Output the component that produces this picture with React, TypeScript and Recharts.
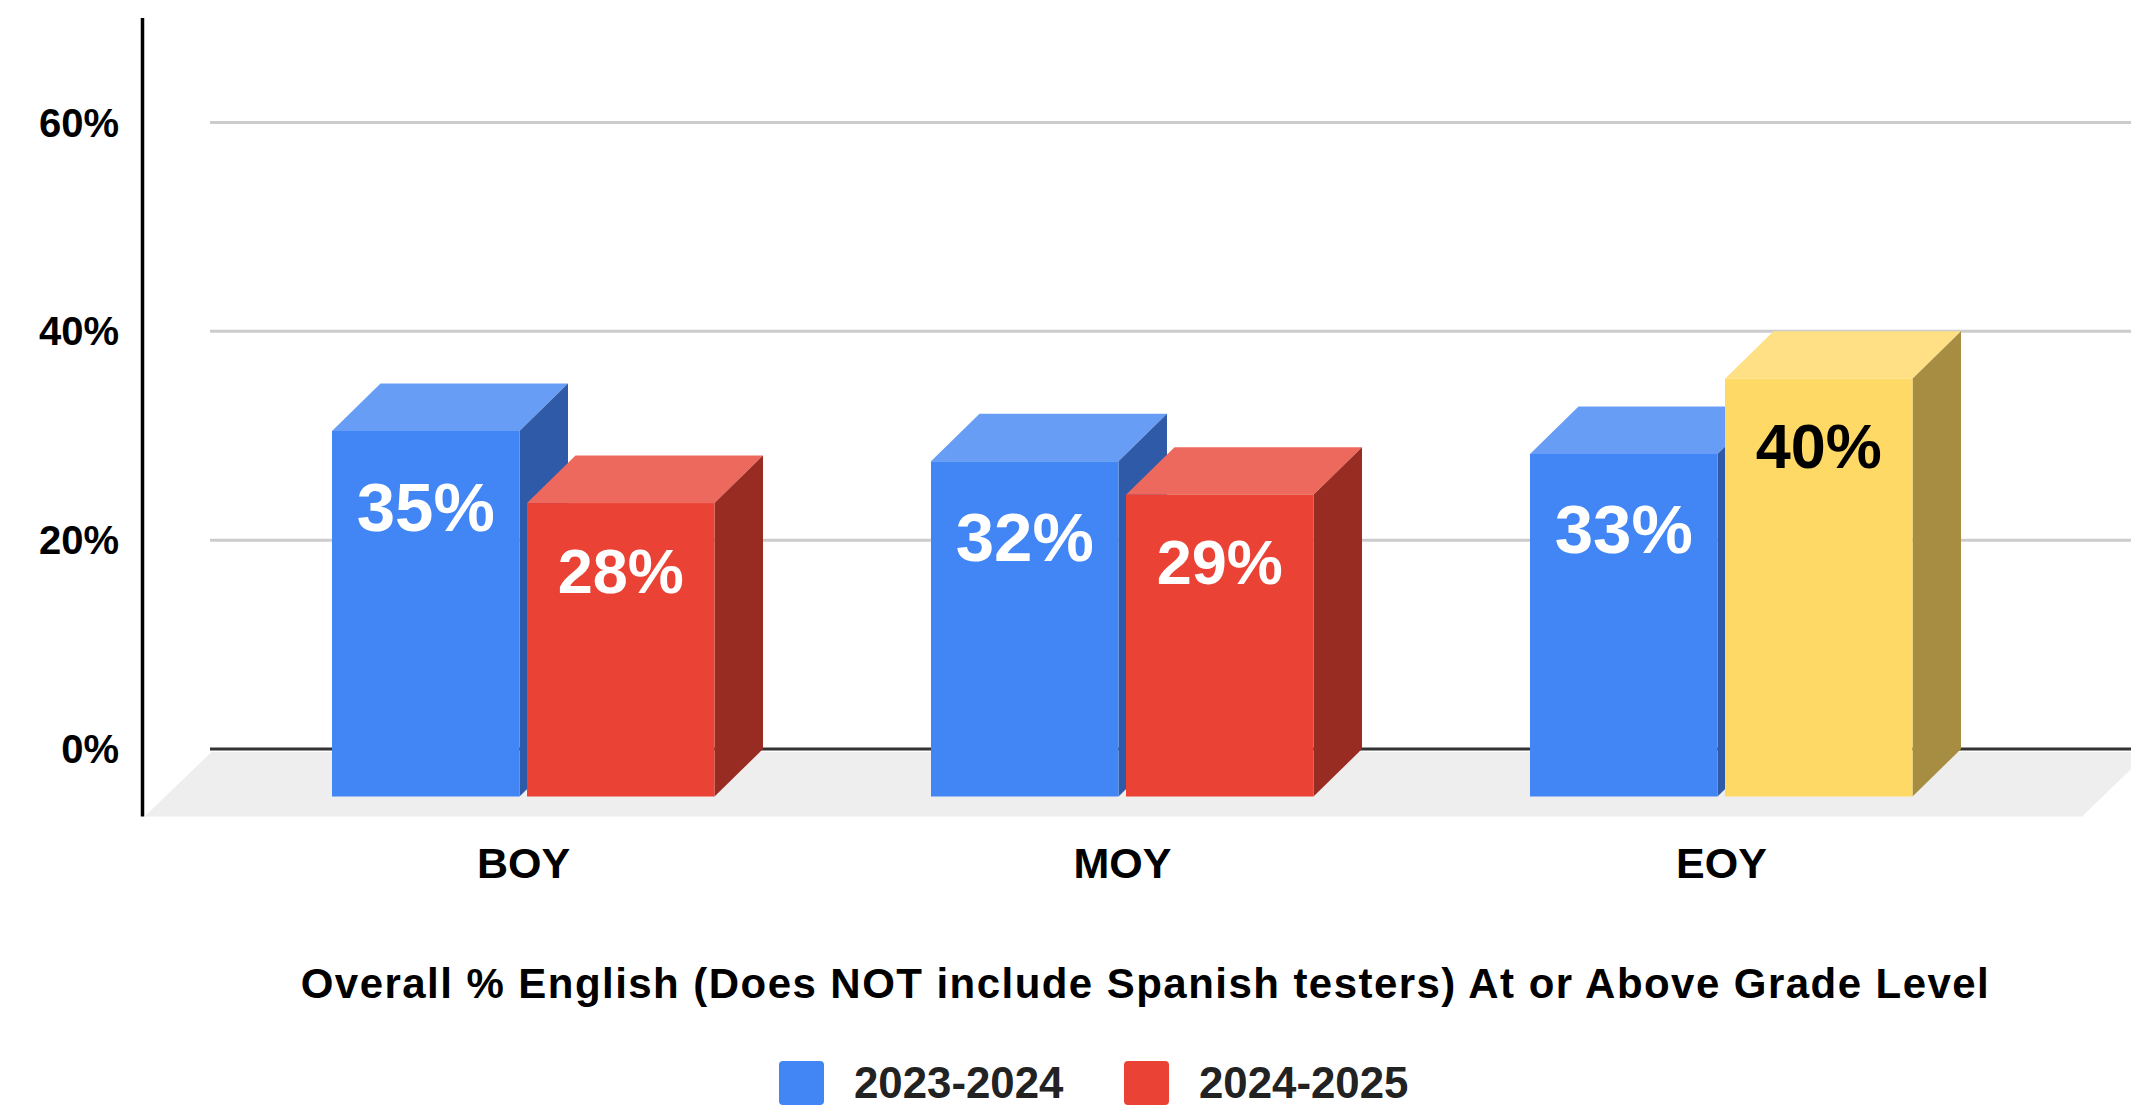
import { Bar, BarChart, CartesianGrid, Cell, LabelList, Legend, XAxis, YAxis } from 'recharts';

const categories = ['BOY', 'MOY', 'EOY'];
const values2324 = [35, 32.1, 32.8];
const values2425 = [28.1, 28.9, 40];
const yTicks = [0, 20, 40, 60];
const gridValues = [20, 40, 60];
const seriesNames = ['2023-2024', '2024-2025'];

const FONT = '"Liberation Sans", Arial, sans-serif';
const DEPTH_X = 48.5;
const DEPTH_Y = 47.5;

// face colours for the fake 3d boxes, keyed by front colour
const SHADES: Record<string, { top: string; side: string; label: string; size: number; drop: number }> = {
  '#4285f4': { top: '#689df6', side: '#2e5aa8', label: '#ffffff', size: 69, drop: 99.5 },
  '#ea4335': { top: '#ee695d', side: '#982b22', label: '#ffffff', size: 63, drop: 89.5 },
  '#ffd966': { top: '#ffe085', side: '#a68d42', label: '#000000', size: 63, drop: 89.5 },
};

const data = categories.map((name, i) => ({ name, a: values2324[i], b: values2425[i] }));

function Box3d(props: any) {
  const { x, y, width, height, fill } = props;
  const shade = SHADES[fill];
  const top = y + DEPTH_Y;
  const bottom = y + height + DEPTH_Y;
  const right = x + width;
  return (
    <g>
      <polygon
        points={`${x},${top} ${right},${top} ${right + DEPTH_X},${y} ${x + DEPTH_X},${y}`}
        fill={shade.top}
      />
      <polygon
        points={`${right},${top} ${right + DEPTH_X},${y} ${right + DEPTH_X},${y + height} ${right},${bottom}`}
        fill={shade.side}
      />
      <rect x={x} y={top} width={width} height={height} fill={fill} />
    </g>
  );
}

function BoxLabel({ colors }: { colors: string[] }) {
  return (props: any) => {
    const { x, y, width, value, index } = props;
    const shade = SHADES[colors[index]];
    return (
      <text
        x={x + width / 2}
        y={y + DEPTH_Y + shade.drop}
        textAnchor="middle"
        fill={shade.label}
        fontFamily={FONT}
        fontWeight="bold"
        fontSize={shade.size}
      >
        {`${Math.round(value)}%`}
      </text>
    );
  };
}

function LegendRow({ payload }: any) {
  return (
    <div style={{ position: 'relative', height: 50, fontFamily: FONT, fontWeight: 'bold', fontSize: 43.8, color: '#222' }}>
      {(payload || []).map((item: any, i: number) => (
        <div key={item.value} style={{ position: 'absolute', left: 779 + i * 345, top: 0, display: 'flex', alignItems: 'center' }}>
          <span style={{ width: 45, height: 44, borderRadius: 4, background: item.color, marginRight: 30 }} />
          <span>{item.value}</span>
        </div>
      ))}
    </div>
  );
}

const blues = ['#4285f4', '#4285f4', '#4285f4'];
const lastYellow = ['#ea4335', '#ea4335', '#ffd966'];

export default function App() {
  return (
    <div style={{ position: 'absolute', left: 0, top: 0, width: 2131, height: 1105, background: '#fff' }}>
      <BarChart
        width={2131}
        height={1105}
        data={data}
        margin={{ top: 18, right: 0, bottom: 56, left: 0 }}
        barSize={187.5}
        barGap={7.5}
      >
        <polygon points="144.5,816.5 2082,816.5 2149,752 211.5,752" fill="#eeeeee" />
        <line x1={142.5} y1={18} x2={142.5} y2={816.5} stroke="#000" strokeWidth={3.5} />
        <line x1={210} y1={749} x2={2131} y2={749} stroke="#333333" strokeWidth={3} />
        <CartesianGrid vertical={false} stroke="#cccccc" strokeWidth={3} horizontalValues={gridValues} />
        <XAxis
          dataKey="name"
          height={250}
          padding={{ left: 14, right: 110 }}
          axisLine={false}
          tickLine={false}
          tickMargin={92}
          tick={{ fill: '#000', fontFamily: FONT, fontWeight: 'bold', fontSize: 43 }}
          label={{
            value: 'Overall % English (Does NOT include Spanish testers) At or Above Grade Level',
            position: 'insideBottom',
            dx: -25,
            dy: 4,
            fill: '#000',
            fontFamily: FONT,
            fontWeight: 'bold',
            fontSize: 42,
            letterSpacing: 1.45,
          }}
        />
        <YAxis
          width={210}
          domain={[0, 70]}
          ticks={yTicks}
          axisLine={false}
          tickLine={false}
          tickMargin={85}
          tickFormatter={(v) => `${v}%`}
          tick={{ fill: '#000', fontFamily: FONT, fontWeight: 'bold', fontSize: 40 }}
        />
        <Legend
          height={50}
          verticalAlign="bottom"
          content={<LegendRow />}
          wrapperStyle={{ top: 1058, left: 0, width: 2131 }}
        />
        <Bar dataKey="a" name={seriesNames[0]} fill="#4285f4" shape={Box3d} isAnimationActive={false}>
          {blues.map((c, i) => (
            <Cell key={i} fill={c} />
          ))}
          <LabelList dataKey="a" content={BoxLabel({ colors: blues })} />
        </Bar>
        <Bar dataKey="b" name={seriesNames[1]} fill="#ea4335" shape={Box3d} isAnimationActive={false}>
          {lastYellow.map((c, i) => (
            <Cell key={i} fill={c} />
          ))}
          <LabelList dataKey="b" content={BoxLabel({ colors: lastYellow })} />
        </Bar>
      </BarChart>
    </div>
  );
}
